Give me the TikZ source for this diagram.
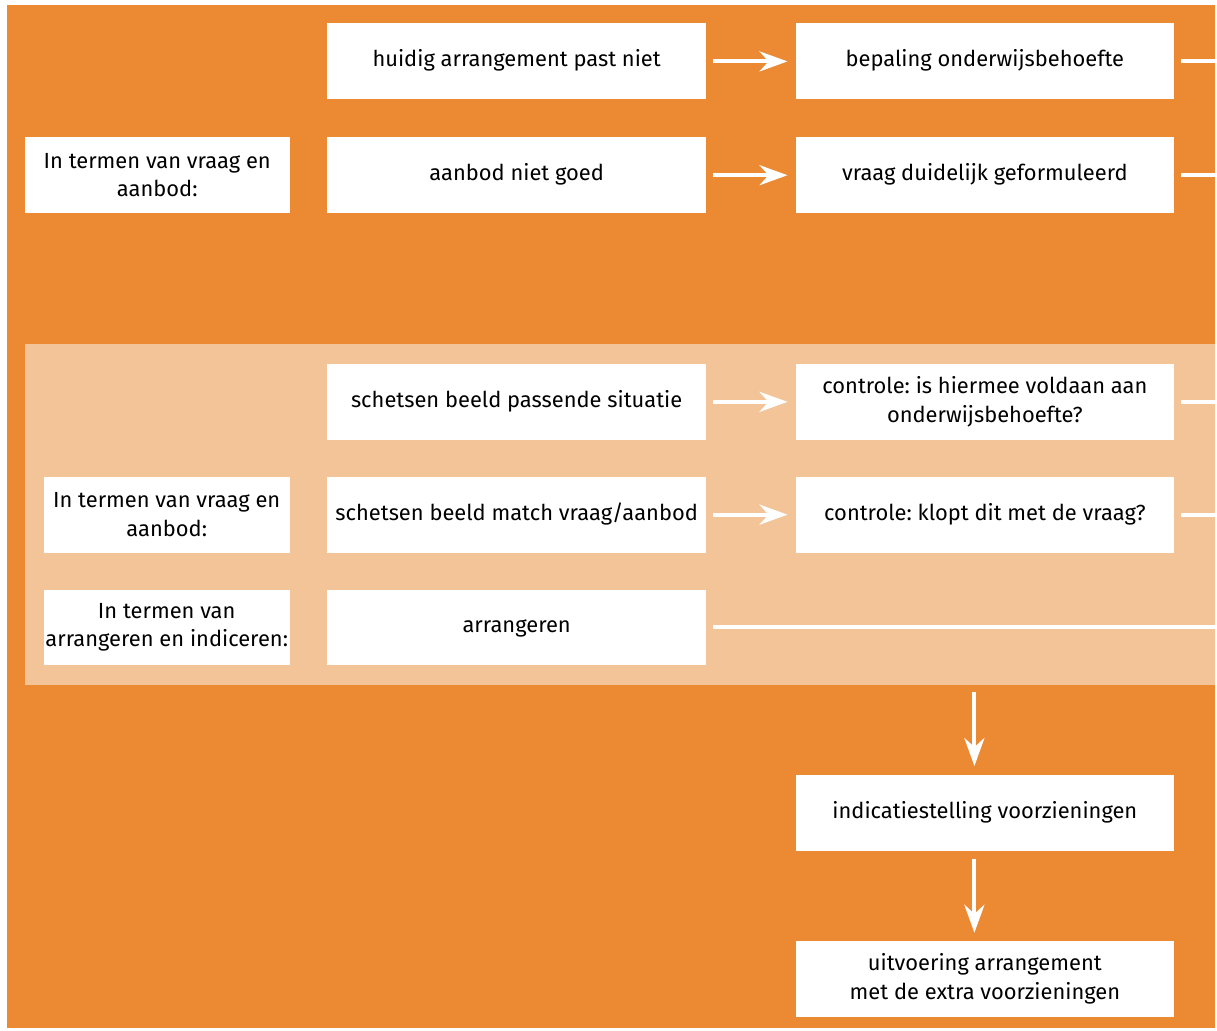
\documentclass[tikz,border=0pt]{standalone}
\usepackage{fontspec}
\setmainfont{Fira Sans}
\usetikzlibrary{positioning,arrows.meta}
\definecolor{oranje}{RGB}{235,138,51}
\definecolor{perzik}{RGB}{244,196,153}
\frenchspacing

\begin{document}
\begin{tikzpicture}[x=1bp,y=-1bp,
  stap/.style={fill=white, minimum width=379bp, minimum height=76bp, inner sep=0pt, align=center, font=\fontsize{22}{28.5}\selectfont},
  enkel/.style={text height=16bp, text depth=5bp},
  kop/.style={stap, minimum width=246bp},
  pijl/.style={white, line width=4bp, shorten <=7bp, shorten >=8bp, -{Stealth[length=28bp,width=20bp,inset=9bp]}},
  lijn/.style={white, line width=4bp, shorten <=7bp}]

% achtergrond
\fill[white] (0,0) rectangle (1217,1032);
\fill[oranje] (7,5) rectangle (1217,1030);
\fill[perzik] (25,345) rectangle (1217,686);

% bovenste blok
\node[kop, minimum width=265bp] (kop1) at (157.5,175.5) {In termen van vraag en\\aanbod:};
\node[stap, enkel] (huidig) at (517.5,61.5) {huidig arrangement past niet};
\node[stap, enkel] (aanbod) at (517.5,175.5) {aanbod niet goed};
\node[stap, enkel] (bepaling) at (986.5,61.5) {bepaling onderwijsbehoefte};
\node[stap, enkel] (vraag) at (986.5,175.5) {vraag duidelijk geformuleerd};

% middelste blok
\node[kop] (kop2) at (167,515.5) {In termen van vraag en\\aanbod:};
\node[kop] (kop3) at (167,628.5) {In termen van\\arrangeren en indiceren:};
\node[stap, enkel] (schets1) at (517.5,402.5) {schetsen beeld passende situatie};
\node[stap, enkel] (schets2) at (517.5,515.5) {schetsen beeld match vraag/aanbod};
\node[stap, enkel] (arr) at (517.5,628.5) {arrangeren};
\node[stap] (controle1) at (986.5,402.5) {controle: is hiermee voldaan aan\\onderwijsbehoefte?};
\node[stap, enkel] (controle2) at (986.5,515.5) {controle: klopt dit met de vraag?};

% onderste blok
\node[stap, enkel] (ind) at (986.5,814.5) {indicatiestelling voorzieningen};
\node[stap] (uit) at (986.5,980.5) {uitvoering arrangement\\met de extra voorzieningen};

\coordinate (r1) at (1217,61.5);
\coordinate (r2) at (1217,175.5);
\coordinate (r3) at (1217,402.5);
\coordinate (r4) at (1217,515.5);
\coordinate (r5) at (1217,628.5);
\coordinate (v1) at (976,693);
\coordinate (v2) at (976,860);

\draw[pijl] (huidig) -- (bepaling);
\draw[pijl] (aanbod) -- (vraag);
\draw[pijl] (schets1) -- (controle1);
\draw[pijl] (schets2) -- (controle2);
\draw[lijn] (bepaling) -- (r1);
\draw[lijn] (vraag) -- (r2);
\draw[lijn] (controle1) -- (r3);
\draw[lijn] (controle2) -- (r4);
\draw[lijn] (arr) -- (r5);
\draw[pijl, shorten <=0bp, shorten >=9bp] (v1) -- (v1 |- ind.north);
\draw[pijl, shorten <=0bp] (v2) -- (v2 |- uit.north);

\end{tikzpicture}
\end{document}
